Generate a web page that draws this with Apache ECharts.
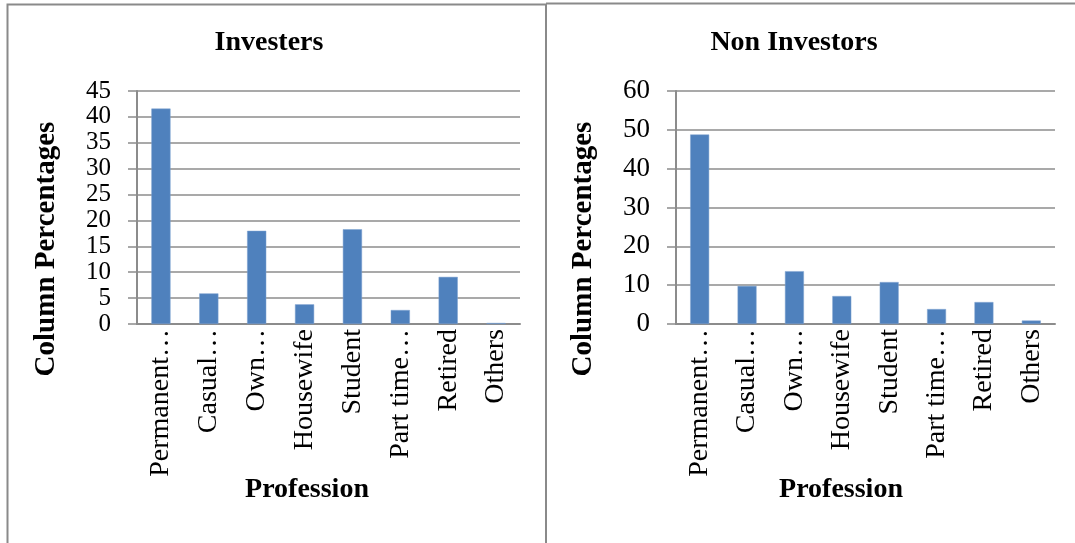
<!DOCTYPE html>
<html>
<head>
<meta charset="utf-8">
<style>
  html, body { margin: 0; padding: 0; background: #ffffff; }
  #chart { width: 1075px; height: 543px; }
</style>
<script src="https://cdn.jsdelivr.net/npm/echarts@6/dist/echarts.min.js"></script>
</head>
<body>
<div id="chart"></div>
<script>
// Profession categories shared by both panels
const professions = ['Permanent…', 'Casual…', 'Own…', 'Housewife', 'Student', 'Part time…', 'Retired', 'Others'];

// Column percentages per profession
const investorPct = [41.6, 5.9, 18.0, 3.8, 18.3, 2.7, 9.1, 0.2];
const nonInvestorPct = [48.8, 9.8, 13.6, 7.2, 10.8, 3.85, 5.65, 0.9];

// Value-axis ranges
const investorAxis = { min: 0, max: 45, interval: 5 };
const nonInvestorAxis = { min: 0, max: 60, interval: 10 };

const panelTitles = ['Investers', 'Non Investors'];
const yName = 'Column Percentages';
const xName = 'Profession';

const SERIF = '"Liberation Serif", "DejaVu Serif", serif';
const GRID_GRAY = '#8c8c8c';
const BORDER_GRAY = '#8a8a8a';
const BAR_BLUE = '#4f81bd';

function valueAxis(idx, range, size) {
  return {
    type: 'value', gridIndex: idx,
    min: range.min, max: range.max, interval: range.interval,
    axisLine: { show: true, lineStyle: { color: GRID_GRAY, width: 2 } },
    axisTick: { show: true, length: 9, lineStyle: { color: GRID_GRAY, width: 1.5 } },
    splitLine: { show: true, lineStyle: { color: GRID_GRAY, width: 1.5 } },
    axisLabel: {
      color: '#000', fontFamily: SERIF, fontSize: size, margin: 26,
      showMinLabel: true, showMaxLabel: true, hideOverlap: false
    }
  };
}

function categoryAxis(idx) {
  return {
    type: 'category', gridIndex: idx, data: professions,
    axisLine: { show: true, lineStyle: { color: GRID_GRAY, width: 2 } },
    axisTick: { show: false },
    axisLabel: { color: '#000', fontFamily: SERIF, fontSize: 28, rotate: 90, margin: 5, interval: 0 }
  };
}

function barSeries(idx, values) {
  return {
    type: 'bar', xAxisIndex: idx, yAxisIndex: idx, data: values,
    barWidth: '40%',
    itemStyle: { color: BAR_BLUE, borderColor: '#7fa3d0', borderWidth: 0.5 },
    silent: true, animation: false
  };
}

function label(text, x, y, size, opts) {
  return Object.assign({
    type: 'text', x: x, y: y,
    style: {
      text: text, fill: '#000', font: 'bold ' + size + 'px ' + SERIF,
      textAlign: 'center', textVerticalAlign: 'middle'
    }
  }, opts || {});
}

const option = {
  backgroundColor: '#ffffff',
  animation: false,
  grid: [
    { left: 137, right: 555, top: 91, bottom: 219, containLabel: false },
    { left: 676, right: 20, top: 91, bottom: 219, containLabel: false }
  ],
  xAxis: [categoryAxis(0), categoryAxis(1)],
  yAxis: [valueAxis(0, investorAxis, 25), valueAxis(1, nonInvestorAxis, 27)],
  series: [barSeries(0, investorPct), barSeries(1, nonInvestorPct)],
  graphic: [
    // panel frames
    { type: 'polyline', shape: { points: [[7.5, 560], [7.5, 4.5], [546, 4.5], [546, 560]] },
      style: { stroke: BORDER_GRAY, lineWidth: 2, fill: null } },
    { type: 'line', shape: { x1: 546, y1: 3.5, x2: 1075, y2: 3.5 },
      style: { stroke: BORDER_GRAY, lineWidth: 2 } },
    // titles
    label(panelTitles[0], 269, 43, 28),
    label(panelTitles[1], 794, 43, 28),
    // value-axis names
    label(yName, 47, 249, 29, { rotation: Math.PI / 2 }),
    label(yName, 584, 249, 29, { rotation: Math.PI / 2 }),
    // category-axis names
    label(xName, 307, 490, 28),
    label(xName, 841, 490, 28)
  ]
};

const chart = echarts.init(document.getElementById('chart'), null, { renderer: 'canvas' });
chart.setOption(option);
</script>
</body>
</html>
